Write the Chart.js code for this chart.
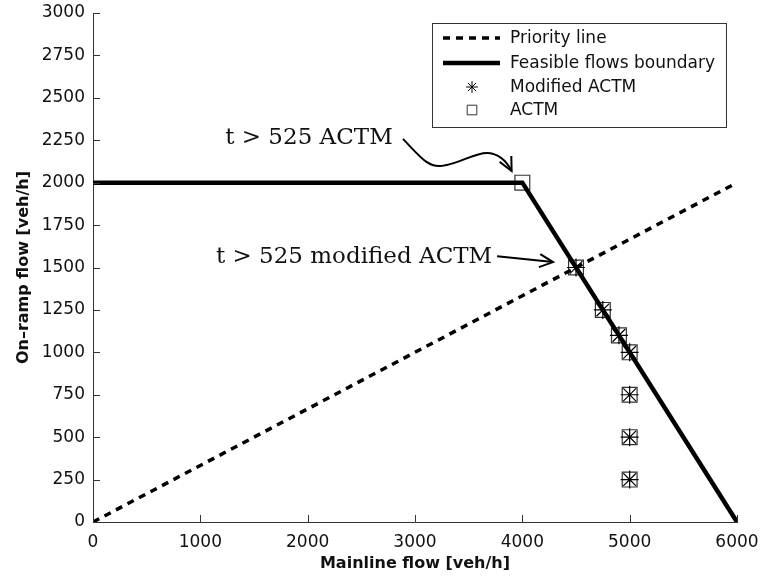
<!DOCTYPE html>
<html>
<head>
<meta charset="utf-8">
<script src="https://cdn.jsdelivr.net/npm/chart.js@4.4.1/dist/chart.umd.min.js"></script>
<style>
  html, body { margin: 0; padding: 0; background: #fff; }
  #wrap { width: 760px; height: 577px; }
</style>
</head>
<body>
<div id="wrap"><canvas id="flowChart" width="760" height="577"></canvas></div>
<script>
// priority line and feasible flows boundary
const priorityX = [0, 6000];
const priorityY = [0, 2000];
const boundaryX = [0, 4000, 6000];
const boundaryY = [2000, 2000, 0];

// simulated operating points
const modifiedX = [4500, 4750, 4900, 5000, 5000, 5000, 5000];
const modifiedY = [1500, 1250, 1100, 1000, 750, 500, 250];
const actmX = [4000, 4500, 4750, 4900, 5000, 5000, 5000, 5000];
const actmY = [2000, 1500, 1250, 1100, 1000, 750, 500, 250];

const xTicks = [0, 1000, 2000, 3000, 4000, 5000, 6000];
const yTicks = [0, 250, 500, 750, 1000, 1250, 1500, 1750, 2000, 2250, 2500, 2750, 3000];

const zip = (xs, ys) => xs.map((x, i) => ({ x: x, y: ys[i] }));

const tickFont = { family: 'DejaVu Sans', size: 17 };
const titleFont = { family: 'DejaVu Sans', size: 16, weight: 'bold' };

// inward ticks, legend box and the two arrows
const extras = {
  id: 'extras',
  afterDraw(chart) {
    const ctx = chart.ctx;
    const xs = chart.scales.x, ys = chart.scales.y;
    const area = chart.chartArea;
    ctx.save();
    ctx.strokeStyle = '#333';
    ctx.lineWidth = 1;
    xTicks.forEach(v => {
      const px = Math.round(xs.getPixelForValue(v)) + 0.5;
      ctx.beginPath(); ctx.moveTo(px, area.bottom); ctx.lineTo(px, area.bottom - 7); ctx.stroke();
    });
    yTicks.forEach(v => {
      const py = Math.round(ys.getPixelForValue(v)) + 0.5;
      ctx.beginPath(); ctx.moveTo(area.left, py); ctx.lineTo(area.left + 7, py); ctx.stroke();
    });

    // legend
    const lx = 432, ly = 23, lw = 294, lh = 104;
    ctx.fillStyle = '#fff';
    ctx.fillRect(lx, ly, lw, lh);
    ctx.strokeRect(lx + 0.5, ly + 0.5, lw, lh);
    ctx.font = '17px "DejaVu Sans"';
    ctx.textBaseline = 'middle';
    const rows = [38, 63, 87, 110];
    chart.data.datasets.forEach((ds, i) => {
      const y = rows[i];
      ctx.save();
      if (ds.showLine) {
        ctx.strokeStyle = '#000';
        ctx.lineWidth = ds.borderWidth;
        ctx.setLineDash(ds.borderDash || []);
        ctx.beginPath(); ctx.moveTo(443, y); ctx.lineTo(500, y); ctx.stroke();
      } else {
        ctx.fillStyle = ds.backgroundColor;
        ctx.strokeStyle = ds.borderColor;
        ctx.lineWidth = 1;
        Chart.helpers.drawPoint(ctx, {
          pointStyle: ds.pointStyle, radius: ds.pointRadius * 0.65,
          borderWidth: 1, rotation: 0
        }, 472, y);
      }
      ctx.restore();
      ctx.fillStyle = '#111';
      ctx.fillText(ds.label, 510, y + 1);
    });

    // annotations
    const P = (x, y) => [xs.getPixelForValue(x), ys.getPixelForValue(y)];
    const head = (tip, from) => {
      const a = Math.atan2(tip[1] - from[1], tip[0] - from[0]);
      const L = 15, s = 0.45;
      ctx.beginPath();
      ctx.moveTo(tip[0] - L * Math.cos(a - s), tip[1] - L * Math.sin(a - s));
      ctx.lineTo(tip[0], tip[1]);
      ctx.lineTo(tip[0] - L * Math.cos(a + s), tip[1] - L * Math.sin(a + s));
      ctx.stroke();
    };
    ctx.strokeStyle = '#000';
    ctx.lineWidth = 2;
    ctx.fillStyle = '#111';
    ctx.font = '23px "DejaVu Serif"';
    ctx.textAlign = 'center';
    ctx.textBaseline = 'middle';
    let t = P(2012, 2264);
    ctx.fillText('t > 525 ACTM', t[0], t[1]);
    t = P(2432, 1561);
    ctx.fillText('t > 525 modified ACTM', t[0], t[1]);

    const a0 = P(2888, 2258), c1 = P(3049, 2152), c2 = P(3124, 2087), a1 = P(3251, 2099);
    const c3 = P(3420, 2111), c4 = P(3560, 2181), a2 = P(3680, 2175);
    const c5 = P(3773, 2170), c6 = P(3848, 2134), a3 = P(3900, 2069);
    ctx.beginPath();
    ctx.moveTo(a0[0], a0[1]);
    ctx.bezierCurveTo(c1[0], c1[1], c2[0], c2[1], a1[0], a1[1]);
    ctx.bezierCurveTo(c3[0], c3[1], c4[0], c4[1], a2[0], a2[1]);
    ctx.bezierCurveTo(c5[0], c5[1], c6[0], c6[1], a3[0], a3[1]);
    ctx.stroke();
    head(a3, c6);

    const b0 = P(3765, 1567), b1 = P(4286, 1532);
    ctx.beginPath(); ctx.moveTo(b0[0], b0[1]); ctx.lineTo(b1[0], b1[1]); ctx.stroke();
    head(b1, b0);
    ctx.restore();
  }
};

new Chart(document.getElementById('flowChart'), {
  type: 'scatter',
  data: {
    datasets: [
      {
        label: 'Priority line',
        data: zip(priorityX, priorityY),
        showLine: true,
        borderColor: '#000',
        borderWidth: 3.5,
        borderDash: [7, 6],
        pointRadius: 0,
        order: 2
      },
      {
        label: 'Feasible flows boundary',
        data: zip(boundaryX, boundaryY),
        showLine: true,
        borderColor: '#000',
        borderWidth: 4.5,
        pointRadius: 0,
        order: 1
      },
      {
        label: 'Modified ACTM',
        data: zip(modifiedX, modifiedY),
        showLine: false,
        pointStyle: 'star',
        pointRadius: 9,
        pointBorderWidth: 1.2,
        borderColor: '#000',
        backgroundColor: '#000',
        order: 3
      },
      {
        label: 'ACTM',
        data: zip(actmX, actmY),
        showLine: false,
        pointStyle: 'rect',
        pointRadius: 10.5,
        pointBorderWidth: 1.2,
        borderColor: '#333',
        backgroundColor: 'rgba(0,0,0,0)',
        order: 4
      }
    ]
  },
  options: {
    responsive: false,
    animation: false,
    layout: { padding: { top: 0, right: 0, left: 0, bottom: 0 } },
    plugins: { legend: { display: false }, tooltip: { enabled: false } },
    scales: {
      x: {
        type: 'linear',
        min: 0, max: 6000,
        afterBuildTicks: s => { s.ticks = xTicks.map(v => ({ value: v })); },
        afterFit: s => { s.height = 55; s.paddingLeft = 0; s.paddingRight = 23; },
        grid: { drawOnChartArea: false, drawTicks: false },
        border: { display: true, color: '#333', width: 1 },
        ticks: { font: tickFont, color: '#111', padding: 10, maxRotation: 0, callback: v => String(v) },
        title: { display: true, text: 'Mainline flow [veh/h]', font: titleFont, color: '#111', padding: { top: 0, bottom: 4 } }
      },
      y: {
        type: 'linear',
        min: 0, max: 3000,
        afterBuildTicks: s => { s.ticks = yTicks.map(v => ({ value: v })); },
        afterFit: s => { s.width = 93; s.paddingTop = 13; s.paddingBottom = 0; },
        grid: { drawOnChartArea: false, drawTicks: false },
        border: { display: true, color: '#333', width: 1 },
        ticks: { font: tickFont, color: '#111', padding: 8, callback: v => String(v) },
        title: { display: true, text: 'On\u2013ramp flow [veh/h]', font: titleFont, color: '#111', padding: { top: 14, bottom: 0 } }
      }
    }
  },
  plugins: [extras]
});
</script>
</body>
</html>
